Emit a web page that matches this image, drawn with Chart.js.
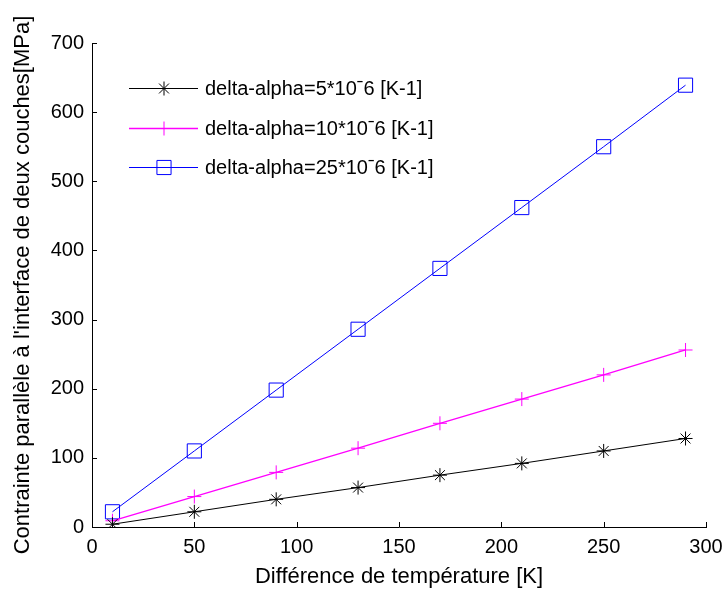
<!DOCTYPE html>
<html>
<head>
<meta charset="utf-8">
<script src="https://cdn.jsdelivr.net/npm/chart.js@4/dist/chart.umd.min.js"></script>
<style>
  html, body { margin: 0; padding: 0; background: #fff; }
  #wrap { width: 725px; height: 590px; }
</style>
</head>
<body>
<div id="wrap"><canvas id="chart" width="725" height="590"></canvas></div>
<script>
const temps = [10, 50, 90, 130, 170, 210, 250, 290]
const stress5 = [4, 22, 40, 57, 75, 92, 110, 128]
const stress10 = [9, 44, 79, 114, 150, 185, 220, 256]
const stress25 = [22, 110, 198, 286, 374, 462, 550, 639]
const labels = [
  "delta-alpha=5*10ˉ6 [K-1]",
  "delta-alpha=10*10ˉ6 [K-1]",
  "delta-alpha=25*10ˉ6 [K-1]"
]
const xTicks = [0, 50, 100, 150, 200, 250, 300]
const yTicks = [0, 100, 200, 300, 400, 500, 600, 700]

const font = "Liberation Sans, Arial, sans-serif"

// inward tick marks like the matlab export
const innerTicks = {
  id: "innerTicks",
  afterDraw(chart) {
    const ctx = chart.ctx
    const x = chart.scales.x
    const y = chart.scales.y
    ctx.save()
    ctx.strokeStyle = "#000"
    ctx.lineWidth = 1
    ctx.beginPath()
    xTicks.forEach(v => {
      const px = Math.round(x.getPixelForValue(v)) + 0.5
      ctx.moveTo(px, y.bottom)
      ctx.lineTo(px, y.bottom - 5)
    })
    yTicks.forEach(v => {
      const py = Math.round(y.getPixelForValue(v)) + 0.5
      ctx.moveTo(x.left, py)
      ctx.lineTo(x.left + 5, py)
    })
    ctx.stroke()
    ctx.restore()
  }
}

// legend drawn inside the plot, top left
const insideLegend = {
  id: "insideLegend",
  afterDraw(chart) {
    const ctx = chart.ctx
    const rows = [88, 128, 167]
    ctx.save()
    ctx.font = "20px " + font
    ctx.textBaseline = "middle"
    chart.data.datasets.forEach((ds, i) => {
      const yy = rows[i] + 0.5
      ctx.strokeStyle = ds.borderColor
      ctx.fillStyle = "rgba(0,0,0,0)"
      ctx.lineWidth = ds.borderWidth
      ctx.beginPath()
      ctx.moveTo(129, yy)
      ctx.lineTo(198, yy)
      ctx.stroke()
      ctx.lineWidth = 1
      Chart.helpers.drawPoint(ctx, {
        pointStyle: ds.pointStyle,
        radius: ds.pointRadius,
        borderWidth: 1
      }, 164, yy)
      ctx.fillStyle = "#000"
      ctx.fillText(ds.label, 205, rows[i] + 1)
    })
    ctx.restore()
  }
}

function makeSet(label, data, color, style, radius, width) {
  return {
    label: label,
    data: data.map((v, i) => ({ x: temps[i], y: v })),
    borderColor: color,
    backgroundColor: "rgba(0,0,0,0)",
    borderWidth: width,
    pointStyle: style,
    pointRadius: radius,
    pointBorderColor: color,
    pointBorderWidth: 1,
    pointBackgroundColor: "rgba(0,0,0,0)",
    tension: 0
  }
}

new Chart(document.getElementById("chart"), {
  type: "line",
  data: {
    datasets: [
      makeSet(labels[0], stress5, "#000000", "star", 7, 1),
      makeSet(labels[1], stress10, "#ff00ff", "cross", 7, 1.3),
      makeSet(labels[2], stress25, "#0000ff", "rect", 10, 1)
    ]
  },
  options: {
    responsive: false,
    animation: false,
    layout: { padding: { top: 43, right: 19, left: 0, bottom: 0 } },
    plugins: {
      legend: { display: false },
      tooltip: { enabled: false }
    },
    scales: {
      x: {
        type: "linear",
        min: 0,
        max: 300,
        afterBuildTicks: s => { s.ticks = xTicks.map(v => ({ value: v })) },
        afterFit: s => { s.height = 63; s.paddingRight = 0; s.paddingLeft = 0 },
        grid: { drawOnChartArea: false, drawTicks: false },
        border: { color: "#000", width: 1 },
        ticks: { color: "#000", font: { family: font, size: 20 }, padding: 8, maxRotation: 0 },
        title: { display: true, text: "Différence de température [K]", color: "#000", font: { family: font, size: 22 }, padding: { top: 0, bottom: 0 } }
      },
      y: {
        type: "linear",
        min: 0,
        max: 700,
        afterBuildTicks: s => { s.ticks = yTicks.map(v => ({ value: v })) },
        afterFit: s => { s.width = 92; s.paddingTop = 0; s.paddingBottom = 0 },
        grid: { drawOnChartArea: false, drawTicks: false },
        border: { color: "#000", width: 1 },
        ticks: { color: "#000", font: { family: font, size: 20 }, padding: 8 },
        title: { display: true, text: "Contrainte parallèle à l'interface de deux couches[MPa]", color: "#000", font: { family: font, size: 22 }, padding: { top: 10, bottom: 0 } }
      }
    }
  },
  plugins: [innerTicks, insideLegend]
})
</script>
</body>
</html>
